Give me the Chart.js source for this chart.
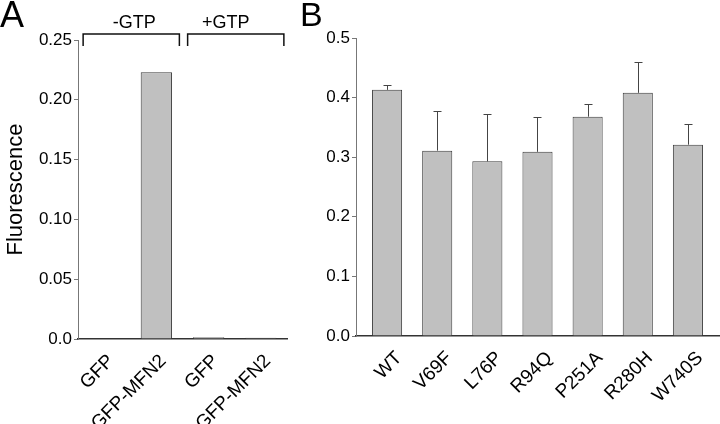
<!DOCTYPE html>
<html>
<head>
<meta charset="utf-8">
<script src="https://cdn.jsdelivr.net/npm/chart.js@4.4.1/dist/chart.umd.min.js"></script>
<style>
  html, body { margin: 0; padding: 0; background: #fff; }
  #wrap { position: relative; width: 720px; height: 424px; overflow: hidden; }
  #wrap canvas { position: absolute; top: 0; }
</style>
</head>
<body>
<div id="wrap">
  <canvas id="chartA" width="300" height="424" style="left:0;width:300px;height:424px"></canvas>
  <canvas id="chartB" width="420" height="424" style="left:300px;width:420px;height:424px"></canvas>
</div>
<script>
  // panel A
  const categoriesA = ['GFP', 'GFP-MFN2', 'GFP', 'GFP-MFN2'];
  const valuesA = [0, 0.223, 0.0015, 0.001];
  const groupsA = ['-GTP', '+GTP'];
  const ticksA = [0, 0.05, 0.10, 0.15, 0.20, 0.25];

  // panel B
  const mutantsB = ['WT', 'V69F', 'L76P', 'R94Q', 'P251A', 'R280H', 'W740S'];
  const meansB = [0.413, 0.311, 0.293, 0.309, 0.368, 0.408, 0.321];
  const errorsB = [0.008, 0.066, 0.079, 0.058, 0.022, 0.052, 0.035];
  const ticksB = [0, 0.1, 0.2, 0.3, 0.4, 0.5];

  const FONT = 'Liberation Sans';
  const barFill = '#c0c0c0';
  const barEdge = '#3c3c3c';

  Chart.defaults.font.family = FONT;
  Chart.defaults.color = '#000';

  // brackets + group labels above panel A, and panel letter
  const bracketPlugin = {
    id: 'brackets',
    afterDraw(chart) {
      const ctx = chart.ctx;
      const x = chart.scales.x;
      const shift = [3, -10];
      ctx.save();
      ctx.strokeStyle = '#111';
      ctx.lineWidth = 1.5;
      groupsA.forEach((g, i) => {
        const x0 = x.getPixelForValue(2 * i) - 21;
        const x1 = x.getPixelForValue(2 * i + 1) + 23;
        ctx.beginPath();
        ctx.moveTo(x0, 46);
        ctx.lineTo(x0, 34);
        ctx.lineTo(x1, 34);
        ctx.lineTo(x1, 46);
        ctx.stroke();
        ctx.fillStyle = '#000';
        ctx.font = '18px "' + FONT + '"';
        ctx.textAlign = 'center';
        ctx.textBaseline = 'alphabetic';
        ctx.fillText(g, (x0 + x1) / 2 + shift[i], 28);
      });
      ctx.font = '36px "' + FONT + '"';
      ctx.textAlign = 'left';
      ctx.fillText('A', 0, 27);
      ctx.restore();
    }
  };

  // error bars (upper only) for panel B
  const errorPlugin = {
    id: 'errbars',
    afterDatasetsDraw(chart) {
      const ctx = chart.ctx;
      const x = chart.scales.x, y = chart.scales.y;
      ctx.save();
      ctx.strokeStyle = '#444';
      ctx.lineWidth = 1;
      meansB.forEach((m, i) => {
        const px = Math.round(x.getPixelForValue(i)) + 0.5;
        const top = Math.round(y.getPixelForValue(m + errorsB[i])) + 0.5;
        const base = y.getPixelForValue(m);
        ctx.beginPath();
        ctx.moveTo(px, base);
        ctx.lineTo(px, top);
        ctx.moveTo(px - 4, top);
        ctx.lineTo(px + 4, top);
        ctx.stroke();
      });
      ctx.fillStyle = '#000';
      ctx.font = '34px "' + FONT + '"';
      ctx.fillText('B', 0, 26);
      ctx.restore();
    }
  };

  const yAxis = (max, step, fmt, width, title) => ({
    min: 0,
    max: max,
    afterFit: (s) => { s.width = width; },
    ticks: { stepSize: step, padding: 2, font: { size: 17 }, color: '#000', callback: fmt },
    grid: { display: true, drawOnChartArea: false, drawTicks: true, tickLength: 4, color: '#777' },
    border: { color: '#777', width: 1 },
    title: title ? { display: true, text: title, font: { size: 22 }, color: '#000', padding: { top: 3, bottom: 0 } } : { display: false }
  });

  new Chart(document.getElementById('chartA'), {
    type: 'bar',
    data: {
      labels: categoriesA,
      datasets: [{
        data: valuesA,
        backgroundColor: barFill,
        borderColor: barEdge,
        borderWidth: 1,
        barPercentage: 0.6,
        categoryPercentage: 1
      }]
    },
    options: {
      responsive: false,
      animation: false,
      layout: { padding: { top: 40, right: 13, left: 0, bottom: 0 } },
      plugins: { legend: { display: false }, tooltip: { enabled: false } },
      scales: {
        x: {
          afterFit: (s) => { s.height = 85; },
          ticks: { minRotation: 45, maxRotation: 45, labelOffset: 7, padding: 3, font: { size: 19 }, color: '#000', autoSkip: false },
          grid: { display: false },
          border: { color: '#333', width: 1.5 }
        },
        y: yAxis(ticksA[ticksA.length - 1], 0.05, (v) => v === 0 ? '0.0' : v.toFixed(2), 78, 'Fluorescence')
      }
    },
    plugins: [bracketPlugin]
  });

  new Chart(document.getElementById('chartB'), {
    type: 'bar',
    data: {
      datasets: [{
        data: mutantsB.map((m, i) => ({ x: i, y: meansB[i] })),
        backgroundColor: barFill,
        borderColor: barEdge,
        borderWidth: 1,
        barPercentage: 0.6,
        categoryPercentage: 1
      }]
    },
    options: {
      responsive: false,
      animation: false,
      layout: { padding: { top: 38, right: 0, left: 0, bottom: 0 } },
      plugins: { legend: { display: false }, tooltip: { enabled: false } },
      scales: {
        x: {
          type: 'linear',
          offset: false,
          min: -0.62,
          max: 6.64,
          afterFit: (s) => { s.height = 88; },
          ticks: {
            stepSize: 1, includeBounds: false, autoSkip: false,
            minRotation: 45, maxRotation: 45, labelOffset: 12, padding: 3,
            font: { size: 19 }, color: '#000',
            callback: (v) => Number.isInteger(v) && mutantsB[v] ? mutantsB[v] : ''
          },
          grid: { display: false },
          border: { color: '#333', width: 1.5 }
        },
        y: yAxis(ticksB[ticksB.length - 1], 0.1, (v) => v.toFixed(1), 56, null)
      }
    },
    plugins: [errorPlugin]
  });
</script>
</body>
</html>
